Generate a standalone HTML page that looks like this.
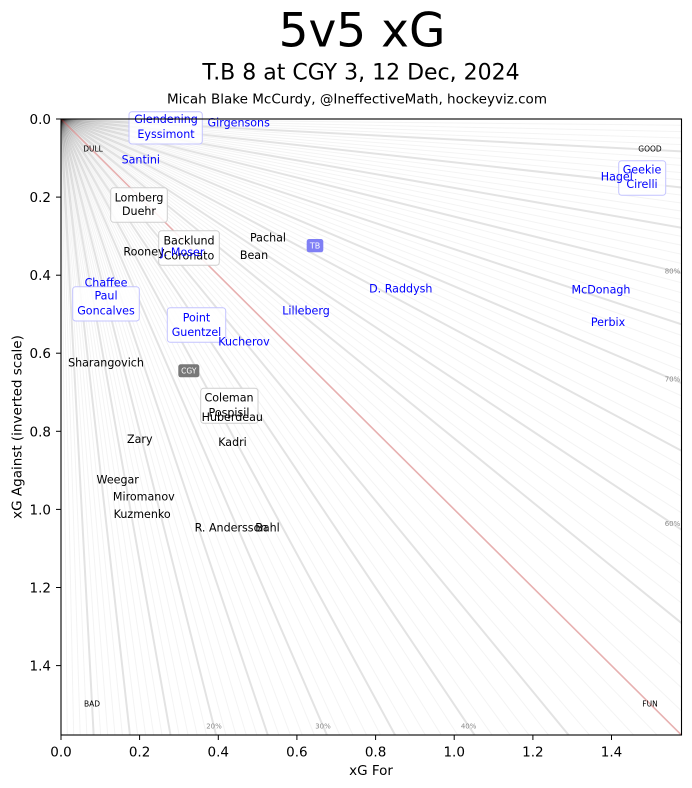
<!DOCTYPE html>
<html><head><meta charset="utf-8"><style>
html,body{margin:0;padding:0;background:#fff;width:692px;height:788px;overflow:hidden;}
svg{display:block;position:absolute;left:0;top:0;}
text{font-family:"DejaVu Sans","Liberation Sans",sans-serif;}
.b{fill:#0000ff;font-size:11.1px;text-anchor:middle;}
.k{fill:#000;font-size:11.1px;text-anchor:middle;}
.c{fill:#000;font-size:7.5px;text-anchor:middle;}
.p{fill:#8a8a8a;font-size:7px;text-anchor:middle;}
.t{fill:#000;font-size:13.5px;}
.th{stroke:#000;stroke-opacity:0.046;stroke-width:1;}
.tk{stroke:#000;stroke-opacity:0.11;stroke-width:2;}
line{vector-effect:non-scaling-stroke;}
</style></head><body>
<svg width="692" height="788" viewBox="0 0 692 788" xmlns="http://www.w3.org/2000/svg" overflow="hidden">
<rect width="692" height="788" fill="#fff"/>
<defs>
<clipPath id="cp"><rect x="61" y="119" width="620.5" height="616"/></clipPath>
</defs>
<!-- titles -->
<text x="362" y="46.7" font-size="47" text-anchor="middle" fill="#000">5v5 xG</text>
<text x="361" y="79.3" font-size="22" text-anchor="middle" fill="#000">T.B 8 at CGY 3, 12 Dec, 2024</text>
<text x="357" y="103.3" font-size="13.3" text-anchor="middle" fill="#000" textLength="380" lengthAdjust="spacingAndGlyphs">Micah Blake McCurdy, @IneffectiveMath, hockeyviz.com</text>

<!-- radial lines -->
<g clip-path="url(#cp)">
<g transform="translate(61,119) scale(393.2,390.4)">
<g id="h">
<line class="th" x1="0" y1="0" x2="0.01616" y2="1.6"/>
<line class="th" x1="0" y1="0" x2="0.03265" y2="1.6"/>
<line class="th" x1="0" y1="0" x2="0.04948" y2="1.6"/>
<line class="th" x1="0" y1="0" x2="0.06667" y2="1.6"/>
<line class="tk" x1="0" y1="0" x2="0.08421" y2="1.6"/>
<line class="th" x1="0" y1="0" x2="0.10213" y2="1.6"/>
<line class="th" x1="0" y1="0" x2="0.12043" y2="1.6"/>
<line class="th" x1="0" y1="0" x2="0.13913" y2="1.6"/>
<line class="th" x1="0" y1="0" x2="0.15824" y2="1.6"/>
<line class="tk" x1="0" y1="0" x2="0.17778" y2="1.6"/>
<line class="th" x1="0" y1="0" x2="0.19775" y2="1.6"/>
<line class="th" x1="0" y1="0" x2="0.21818" y2="1.6"/>
<line class="th" x1="0" y1="0" x2="0.23908" y2="1.6"/>
<line class="th" x1="0" y1="0" x2="0.26047" y2="1.6"/>
<line class="tk" x1="0" y1="0" x2="0.28235" y2="1.6"/>
<line class="th" x1="0" y1="0" x2="0.30476" y2="1.6"/>
<line class="th" x1="0" y1="0" x2="0.32771" y2="1.6"/>
<line class="th" x1="0" y1="0" x2="0.35122" y2="1.6"/>
<line class="th" x1="0" y1="0" x2="0.37531" y2="1.6"/>
<line class="tk" x1="0" y1="0" x2="0.4" y2="1.6"/>
<line class="th" x1="0" y1="0" x2="0.42532" y2="1.6"/>
<line class="th" x1="0" y1="0" x2="0.45128" y2="1.6"/>
<line class="th" x1="0" y1="0" x2="0.47792" y2="1.6"/>
<line class="th" x1="0" y1="0" x2="0.50526" y2="1.6"/>
<line class="tk" x1="0" y1="0" x2="0.53333" y2="1.6"/>
<line class="th" x1="0" y1="0" x2="0.56216" y2="1.6"/>
<line class="th" x1="0" y1="0" x2="0.59178" y2="1.6"/>
<line class="th" x1="0" y1="0" x2="0.62222" y2="1.6"/>
<line class="th" x1="0" y1="0" x2="0.65352" y2="1.6"/>
<line class="tk" x1="0" y1="0" x2="0.68571" y2="1.6"/>
<line class="th" x1="0" y1="0" x2="0.71884" y2="1.6"/>
<line class="th" x1="0" y1="0" x2="0.75294" y2="1.6"/>
<line class="th" x1="0" y1="0" x2="0.78806" y2="1.6"/>
<line class="th" x1="0" y1="0" x2="0.82424" y2="1.6"/>
<line class="tk" x1="0" y1="0" x2="0.86154" y2="1.6"/>
<line class="th" x1="0" y1="0" x2="0.9" y2="1.6"/>
<line class="th" x1="0" y1="0" x2="0.93968" y2="1.6"/>
<line class="th" x1="0" y1="0" x2="0.98065" y2="1.6"/>
<line class="th" x1="0" y1="0" x2="1.02295" y2="1.6"/>
<line class="tk" x1="0" y1="0" x2="1.06667" y2="1.6"/>
<line class="th" x1="0" y1="0" x2="1.11186" y2="1.6"/>
<line class="th" x1="0" y1="0" x2="1.15862" y2="1.6"/>
<line class="th" x1="0" y1="0" x2="1.20702" y2="1.6"/>
<line class="th" x1="0" y1="0" x2="1.25714" y2="1.6"/>
<line class="tk" x1="0" y1="0" x2="1.30909" y2="1.6"/>
<line class="th" x1="0" y1="0" x2="1.36296" y2="1.6"/>
<line class="th" x1="0" y1="0" x2="1.41887" y2="1.6"/>
<line class="th" x1="0" y1="0" x2="1.47692" y2="1.6"/>
<line class="th" x1="0" y1="0" x2="1.53725" y2="1.6"/>
</g>
<use href="#h" transform="matrix(0,1,1,0,0,0)"/>
<line x1="0" y1="0" x2="1.6" y2="1.6" stroke="#c03030" stroke-opacity="0.38" stroke-width="1.6"/>
</g>
</g>

<!-- corner labels -->
<text class="c" x="93" y="151.4">DULL</text>
<text class="c" x="650" y="151.4">GOOD</text>
<text class="c" x="92" y="706.7">BAD</text>
<text class="c" x="650" y="706.7">FUN</text>

<!-- percent labels -->
<text class="p" x="672.5" y="273.5">80%</text>
<text class="p" x="672.5" y="381.5">70%</text>
<text class="p" x="672.5" y="526.2">60%</text>
<text class="p" x="214" y="728.5">20%</text>
<text class="p" x="323" y="728.5">30%</text>
<text class="p" x="468.6" y="728.5">40%</text>

<!-- boxes -->
<g fill="#fff" fill-opacity="0.85" stroke-width="1">
<rect x="129" y="111.7" width="73.3" height="32.3" rx="3" stroke="#c4c4ff"/>
<rect x="167.3" y="307.7" width="58.4" height="34.6" rx="3" stroke="#c4c4ff"/>
<rect x="72.7" y="286.7" width="66.6" height="34.3" rx="3" stroke="#c4c4ff"/>
<rect x="618.7" y="160.7" width="47" height="34.6" rx="3" stroke="#c4c4ff"/>
<rect x="110.7" y="187.7" width="56.6" height="34.6" rx="3" stroke="#cfcfcf"/>
<rect x="158.7" y="230.7" width="60.6" height="34.6" rx="3" stroke="#cfcfcf"/>
<rect x="200.7" y="388.3" width="57.3" height="35" rx="3" stroke="#cfcfcf"/>
</g>

<!-- team badges -->
<rect x="306.7" y="239" width="16.6" height="13.3" rx="2.5" fill="#7f7ff5"/>
<text x="315" y="248.6" font-size="8" fill="#fff" text-anchor="middle">TB</text>
<rect x="178.3" y="364.3" width="21" height="13" rx="2.5" fill="#787878"/>
<text x="188.8" y="373.6" font-size="7.5" fill="#fff" text-anchor="middle">CGY</text>

<!-- player labels: CGY (black) -->
<text class="k" x="139" y="201.3">Lomberg</text>
<text class="k" x="139" y="215">Duehr</text>
<text class="k" x="189" y="244.7">Backlund</text>
<text class="k" x="189" y="259.7">Coronato</text>
<text class="k" x="144" y="255.7">Rooney</text>
<text class="k" x="268" y="241.7">Pachal</text>
<text class="k" x="254" y="259">Bean</text>
<text class="k" x="106" y="366.7">Sharangovich</text>
<text class="k" x="229" y="401.3">Coleman</text>
<text class="k" x="229" y="416.7">Pospisil</text>
<text class="k" x="232.3" y="421">Huberdeau</text>
<text class="k" x="232.5" y="446">Kadri</text>
<text class="k" x="139.8" y="443">Zary</text>
<text class="k" x="117.7" y="483.3">Weegar</text>
<text class="k" x="143.8" y="500.7">Miromanov</text>
<text class="k" x="142.2" y="518">Kuzmenko</text>
<text class="k" x="231" y="531.7">R. Andersson</text>
<text class="k" x="267.5" y="531.7">Bahl</text>

<!-- player labels: TB (blue) -->
<text class="b" x="166" y="123">Glendening</text>
<text class="b" x="166" y="138">Eyssimont</text>
<text class="b" x="238.7" y="126.7">Girgensons</text>
<text class="b" x="140.8" y="163.3">Santini</text>
<text class="b" x="182.5" y="256">J. Moser</text>
<text class="b" x="400.8" y="292.7">D. Raddysh</text>
<text class="b" x="306" y="314.7">Lilleberg</text>
<text class="b" x="196.5" y="321.7">Point</text>
<text class="b" x="196.5" y="336">Guentzel</text>
<text class="b" x="244" y="345.7">Kucherov</text>
<text class="b" x="106" y="286.7">Chaffee</text>
<text class="b" x="106" y="299.3">Paul</text>
<text class="b" x="106" y="314.7">Goncalves</text>
<text class="b" x="601" y="293.3">McDonagh</text>
<text class="b" x="608" y="326">Perbix</text>
<text class="b" x="616.8" y="180.7">Hagel</text>
<text class="b" x="642" y="173.7">Geekie</text>
<text class="b" x="642" y="188">Cirelli</text>

<!-- spines -->
<rect x="61" y="119" width="620.5" height="616" fill="none" stroke="#000" stroke-width="1.1"/>

<!-- ticks -->
<g stroke="#000" stroke-width="1">
<line x1="61" y1="735" x2="61" y2="740"/>
<line x1="139.6" y1="735" x2="139.6" y2="740"/>
<line x1="218.3" y1="735" x2="218.3" y2="740"/>
<line x1="296.9" y1="735" x2="296.9" y2="740"/>
<line x1="375.6" y1="735" x2="375.6" y2="740"/>
<line x1="454.2" y1="735" x2="454.2" y2="740"/>
<line x1="532.9" y1="735" x2="532.9" y2="740"/>
<line x1="611.5" y1="735" x2="611.5" y2="740"/>
<line x1="56" y1="119" x2="61" y2="119"/>
<line x1="56" y1="197.1" x2="61" y2="197.1"/>
<line x1="56" y1="275.2" x2="61" y2="275.2"/>
<line x1="56" y1="353.2" x2="61" y2="353.2"/>
<line x1="56" y1="431.3" x2="61" y2="431.3"/>
<line x1="56" y1="509.4" x2="61" y2="509.4"/>
<line x1="56" y1="587.5" x2="61" y2="587.5"/>
<line x1="56" y1="665.6" x2="61" y2="665.6"/>
</g>
<text class="t" x="61" y="756.5" text-anchor="middle">0.0</text>
<text class="t" x="139.6" y="756.5" text-anchor="middle">0.2</text>
<text class="t" x="218.3" y="756.5" text-anchor="middle">0.4</text>
<text class="t" x="296.9" y="756.5" text-anchor="middle">0.6</text>
<text class="t" x="375.6" y="756.5" text-anchor="middle">0.8</text>
<text class="t" x="454.2" y="756.5" text-anchor="middle">1.0</text>
<text class="t" x="532.9" y="756.5" text-anchor="middle">1.2</text>
<text class="t" x="611.5" y="756.5" text-anchor="middle">1.4</text>
<text class="t" x="51" y="124" text-anchor="end">0.0</text>
<text class="t" x="51" y="202.1" text-anchor="end">0.2</text>
<text class="t" x="51" y="280.2" text-anchor="end">0.4</text>
<text class="t" x="51" y="358.2" text-anchor="end">0.6</text>
<text class="t" x="51" y="436.3" text-anchor="end">0.8</text>
<text class="t" x="51" y="514.4" text-anchor="end">1.0</text>
<text class="t" x="51" y="592.5" text-anchor="end">1.2</text>
<text class="t" x="51" y="670.6" text-anchor="end">1.4</text>

<text class="t" x="371" y="775" text-anchor="middle">xG For</text>
<text class="t" x="0" y="0" text-anchor="middle" transform="translate(21.5,427) rotate(-90)">xG Against (inverted scale)</text>
</svg>
</body></html>
